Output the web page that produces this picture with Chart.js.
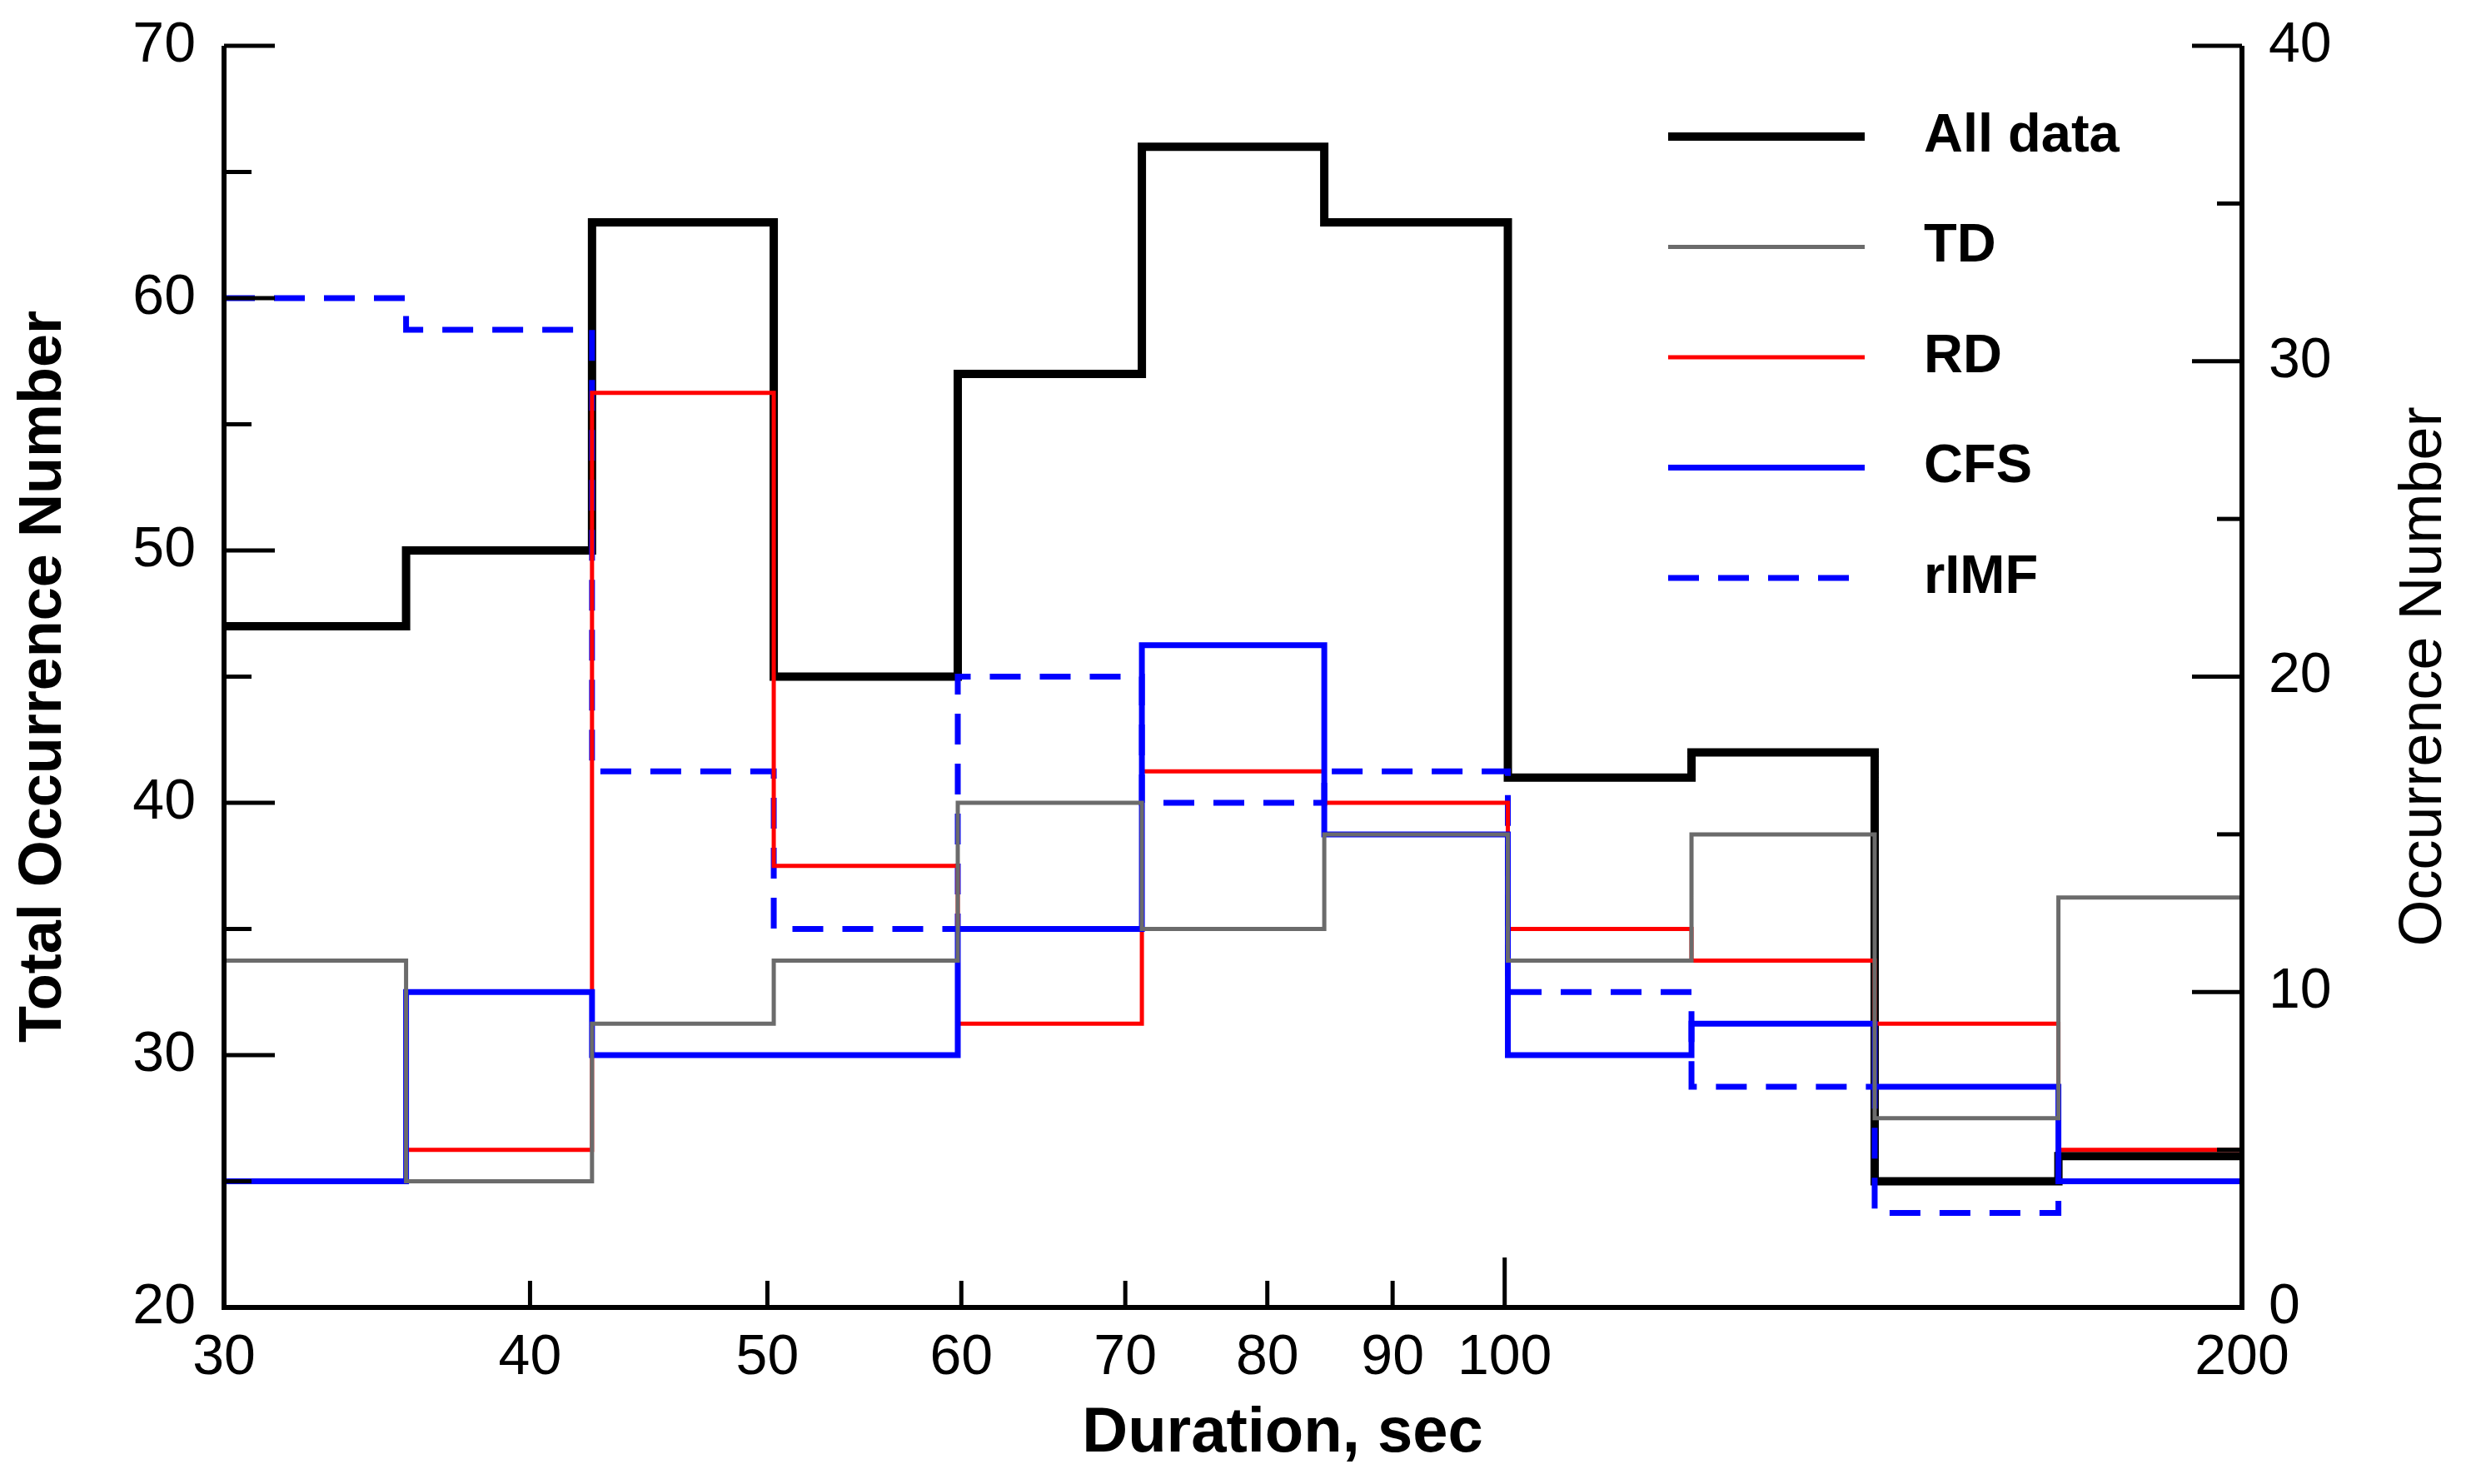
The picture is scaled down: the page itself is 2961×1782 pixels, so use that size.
<!DOCTYPE html>
<html>
<head>
<meta charset="utf-8">
<script src="https://cdn.jsdelivr.net/npm/chart.js@4.4.0/dist/chart.umd.min.js"></script>
<style>
    html, body { margin: 0; padding: 0; background: #fff; }
    #wrap { width: 2961px; height: 1782px; position: relative; }
</style>
</head>
<body>
<div id="wrap"><canvas id="histChart"></canvas></div>
<script>
// bin edges (sec)
const binEdges = [30, 35.6, 42.4, 50.3, 59.8, 71.1, 84.4, 100.3, 119.2, 141.6, 168.3, 200]

// left axis
const allData = [47, 50, 63, 45, 57, 66, 63, 41, 42, 25, 26]
// right axis (RD has nothing drawn in the first bin)
const tdData = [11, 4, 9, 11, 16, 12, 15, 11, 15, 6, 13]
const rdData = [null, 5, 29, 14, 9, 17, 16, 12, 11, 9, 5]
const cfsData = [4, 10, 8, 8, 12, 21, 15, 8, 9, 7, 4]
const rimfData = [32, 31, 17, 12, 20, 16, 17, 10, 7, 3, 4]

const xTickValues = [30, 40, 50, 60, 70, 80, 90, 100, 200]
const leftTicks = [20, 25, 30, 35, 40, 45, 50, 55, 60, 65, 70]
const rightTicks = [0, 5, 10, 15, 20, 25, 30, 35, 40]

const FONT = '"Liberation Sans", Arial, sans-serif'

function stepPoints(values){
    const pts = values.map((v, i) => ({ x: binEdges[i], y: v }))
    pts.push({ x: binEdges[binEdges.length - 1], y: values[values.length - 1] })
    return pts
}

function line(ctx, x1, y1, x2, y2){
    ctx.beginPath()
    ctx.moveTo(x1, y1)
    ctx.lineTo(x2, y2)
    ctx.stroke()
}

// y scales: fixed width, and no extra room for the end labels
function fitY(s){
    s.width = 269
    s.paddingTop = 0
    s.paddingBottom = 0
}

// axes, inward ticks, legend and the two titles Chart.js can't place like the original
const framePlugin = {
    id: 'framePlugin',
    afterDatasetsDraw(chart){
        const { ctx, chartArea: a, scales } = chart
        ctx.save()
        ctx.strokeStyle = '#000'
        ctx.lineCap = 'butt'

        ctx.lineWidth = 5
        xTickValues.forEach(v => {
            if (v === 30) return
            const px = scales.x.getPixelForValue(v)
            line(ctx, px, a.bottom, px, a.bottom - (v === 100 ? 60 : 32))
        })
        leftTicks.forEach(v => {
            const py = scales.y.getPixelForValue(v)
            line(ctx, a.left, py, a.left + (v % 10 === 0 ? 61 : 33), py)
        })
        rightTicks.forEach(v => {
            const py = scales.y1.getPixelForValue(v)
            line(ctx, a.right, py, a.right - (v % 10 === 0 ? 60 : 30), py)
        })

        ctx.lineWidth = 6
        ctx.beginPath()
        ctx.moveTo(a.left, a.top)
        ctx.lineTo(a.left, a.bottom)
        ctx.lineTo(a.right, a.bottom)
        ctx.lineTo(a.right, a.top)
        ctx.stroke()

        // legend
        chart.data.datasets.forEach((ds, i) => {
            const y = 164 + i * 132.5
            ctx.strokeStyle = ds.borderColor
            ctx.lineWidth = ds.borderWidth
            ctx.setLineDash(ds.borderDash || [])
            line(ctx, 2003, y, 2239, y)
            ctx.setLineDash([])
            ctx.fillStyle = '#000'
            ctx.font = 'bold 65px ' + FONT
            ctx.textAlign = 'left'
            ctx.textBaseline = 'middle'
            ctx.fillText(ds.label, 2310, y)
        })

        ctx.fillStyle = '#000'
        ctx.textAlign = 'center'
        ctx.textBaseline = 'middle'
        ctx.font = 'bold 76px ' + FONT
        ctx.fillText('Duration, sec', 1540, 1722)

        ctx.translate(2911, (a.top + a.bottom) / 2)
        ctx.rotate(-Math.PI / 2)
        ctx.font = '72px ' + FONT
        ctx.fillText('Occurrence Number', 0, 0)
        ctx.restore()
    }
}

const ctx = document.getElementById('histChart').getContext('2d')

new Chart(ctx, {
    type: 'line',
    data: {
        datasets: [
            { label: 'All data', data: stepPoints(allData), yAxisID: 'y', borderColor: '#000000', borderWidth: 10, order: 5 },
            { label: 'TD', data: stepPoints(tdData), yAxisID: 'y1', borderColor: '#6b6b6b', borderWidth: 5, order: 1 },
            { label: 'RD', data: stepPoints(rdData), yAxisID: 'y1', borderColor: '#ff0000', borderWidth: 5, order: 3 },
            { label: 'CFS', data: stepPoints(cfsData), yAxisID: 'y1', borderColor: '#0000ff', borderWidth: 7, order: 2 },
            { label: 'rIMF', data: stepPoints(rimfData), yAxisID: 'y1', borderColor: '#0000ff', borderWidth: 7, borderDash: [37, 23], order: 4 }
        ]
    },
    options: {
        responsive: true,
        maintainAspectRatio: false,
        devicePixelRatio: 1,
        animation: false,
        layout: { padding: { top: 55, left: 0, right: 0, bottom: 0 } },
        elements: {
            line: { stepped: 'before', fill: false, tension: 0, borderJoinStyle: 'miter', borderCapStyle: 'butt' },
            point: { radius: 0, hoverRadius: 0 }
        },
        plugins: {
            legend: { display: false },
            tooltip: { enabled: false }
        },
        scales: {
            x: {
                type: 'logarithmic',
                min: 30,
                max: 200,
                grid: { display: false, drawTicks: false },
                border: { display: false },
                afterBuildTicks: s => { s.ticks = xTickValues.map(v => ({ value: v })) },
                afterFit: s => { s.height = 212 },
                ticks: {
                    autoSkip: false,
                    maxRotation: 0,
                    padding: 20,
                    color: '#000',
                    font: { family: FONT, size: 68 },
                    callback: v => String(v)
                }
            },
            y: {
                position: 'left',
                min: 20,
                max: 70,
                grid: { display: false, drawTicks: false },
                border: { display: false },
                afterFit: fitY,
                ticks: {
                    stepSize: 10,
                    padding: 34,
                    color: '#000',
                    font: { family: FONT, size: 68 }
                },
                title: {
                    display: true,
                    text: 'Total Occurrence Number',
                    color: '#000',
                    font: { family: FONT, size: 72, weight: 'bold' },
                    padding: { top: 10, bottom: 0 }
                }
            },
            y1: {
                position: 'right',
                min: 0,
                max: 40,
                grid: { display: false, drawTicks: false },
                border: { display: false },
                afterFit: fitY,
                ticks: {
                    stepSize: 10,
                    padding: 32,
                    color: '#000',
                    font: { family: FONT, size: 68 }
                }
            }
        }
    },
    plugins: [framePlugin]
})
</script>
</body>
</html>
